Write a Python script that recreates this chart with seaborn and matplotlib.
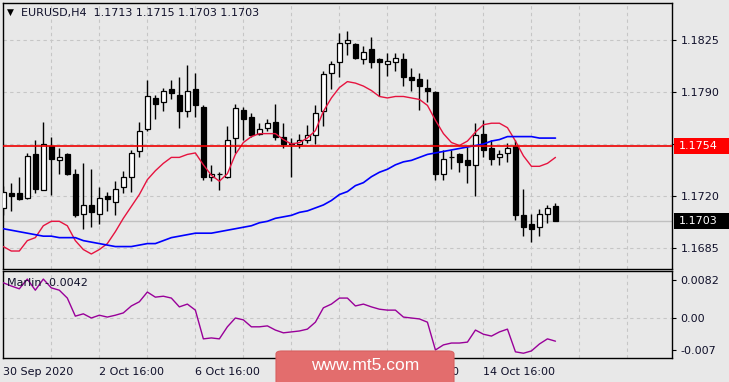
import numpy as np
import pandas as pd
import matplotlib
matplotlib.use('Agg')
import matplotlib.pyplot as plt
import seaborn as sns
from matplotlib.patches import Rectangle, FancyBboxPatch

# EURUSD H4 candles (bar 0 = 30 Sep 16:00)
opens = [1.1712, 1.1722, 1.1722, 1.1719, 1.1748, 1.1724, 1.1754, 1.1744, 1.1748, 1.1735,
         1.1708, 1.1714, 1.1708, 1.1720, 1.1716, 1.1726, 1.1733, 1.1750, 1.1765, 1.1786,
         1.1783, 1.1792, 1.1788, 1.1777, 1.1792, 1.1780, 1.1733, 1.1735, 1.1733, 1.1759,
         1.1778, 1.1773, 1.1762, 1.1766, 1.1770, 1.1760, 1.1756, 1.1755, 1.1758, 1.1761,
         1.1777, 1.1803, 1.1810, 1.1823, 1.1822, 1.1812, 1.1819, 1.1812, 1.1809, 1.1810,
         1.1812, 1.1800, 1.1799, 1.1793, 1.1790, 1.1735, 1.1746, 1.1748, 1.1744, 1.1741,
         1.1762, 1.1752, 1.1746, 1.1749, 1.1754, 1.1707, 1.1701, 1.1699, 1.1708, 1.1713]
highs = [1.1727, 1.1729, 1.1733, 1.1749, 1.1758, 1.1770, 1.1760, 1.1752, 1.1749, 1.1738,
         1.1742, 1.1738, 1.1726, 1.1723, 1.1730, 1.1737, 1.1751, 1.1770, 1.1798, 1.1788,
         1.1793, 1.1798, 1.1800, 1.1808, 1.1803, 1.1781, 1.1741, 1.1736, 1.1767, 1.1782,
         1.1780, 1.1776, 1.1769, 1.1772, 1.1782, 1.1769, 1.1759, 1.1762, 1.1768, 1.1781,
         1.1804, 1.1811, 1.1830, 1.1831, 1.1823, 1.1821, 1.1827, 1.1813, 1.1816, 1.1816,
         1.1816, 1.1806, 1.1803, 1.1799, 1.1791, 1.1751, 1.1751, 1.1749, 1.1753, 1.1769,
         1.1771, 1.1758, 1.1751, 1.1756, 1.1758, 1.1725, 1.1708, 1.1711, 1.1714, 1.1715]
lows = [1.1707, 1.1710, 1.1717, 1.1718, 1.1722, 1.1724, 1.1721, 1.1735, 1.1734, 1.1706,
        1.1698, 1.1699, 1.1701, 1.1710, 1.1707, 1.1722, 1.1723, 1.1746, 1.1764, 1.1772,
        1.1777, 1.1785, 1.1766, 1.1773, 1.1773, 1.1731, 1.1730, 1.1724, 1.1732, 1.1749,
        1.1758, 1.1760, 1.1761, 1.1764, 1.1758, 1.1752, 1.1733, 1.1752, 1.1756, 1.1755,
        1.1767, 1.1792, 1.1800, 1.1815, 1.1812, 1.1809, 1.1806, 1.1787, 1.1801, 1.1804,
        1.1794, 1.1791, 1.1778, 1.1783, 1.1731, 1.1731, 1.1738, 1.1736, 1.1729, 1.1720,
        1.1746, 1.1741, 1.1741, 1.1743, 1.1704, 1.1693, 1.1689, 1.1693, 1.1702, 1.1703]
closes = [1.1723, 1.1720, 1.1718, 1.1747, 1.1725, 1.1755, 1.1745, 1.1746, 1.1735, 1.1707,
          1.1714, 1.1709, 1.1719, 1.1718, 1.1725, 1.1733, 1.1749, 1.1764, 1.1787, 1.1782,
          1.1791, 1.1789, 1.1777, 1.1791, 1.1781, 1.1733, 1.1735, 1.1735, 1.1758, 1.1779,
          1.1772, 1.1761, 1.1765, 1.1769, 1.1760, 1.1755, 1.1755, 1.1758, 1.1761, 1.1776,
          1.1802, 1.1809, 1.1823, 1.1825, 1.1813, 1.1817, 1.1810, 1.1810, 1.1811, 1.1813,
          1.1800, 1.1798, 1.1794, 1.1791, 1.1735, 1.1745, 1.1746, 1.1743, 1.1741, 1.1761,
          1.1751, 1.1745, 1.1748, 1.1752, 1.1707, 1.1699, 1.1698, 1.1708, 1.1712, 1.1703]

# moving averages (red = fast, blue = slow)
ma_fast = [1.1686, 1.1683, 1.1683, 1.1690, 1.1692, 1.1700, 1.1703, 1.1703, 1.1700, 1.1690,
           1.1684, 1.1681, 1.1684, 1.1688, 1.1696, 1.1705, 1.1713, 1.1721, 1.1731, 1.1737,
           1.1742, 1.1746, 1.1746, 1.1748, 1.1749, 1.1741, 1.1734, 1.1730, 1.1735, 1.1748,
           1.1756, 1.1760, 1.1762, 1.1762, 1.1762, 1.1758, 1.1755, 1.1756, 1.1759, 1.1764,
           1.1777, 1.1786, 1.1793, 1.1797, 1.1796, 1.1794, 1.1791, 1.1787, 1.1786, 1.1787,
           1.1787, 1.1786, 1.1785, 1.1781, 1.1771, 1.1762, 1.1756, 1.1754, 1.1757, 1.1763,
           1.1768, 1.1769, 1.1769, 1.1766, 1.1757, 1.1747, 1.1740, 1.1740, 1.1742, 1.1746]
ma_slow = [1.1698, 1.1697, 1.1696, 1.1695, 1.1694, 1.1693, 1.1693, 1.1692, 1.1692, 1.1692,
           1.1690, 1.1689, 1.1688, 1.1687, 1.1686, 1.1686, 1.1686, 1.1687, 1.1688, 1.1688,
           1.1690, 1.1692, 1.1693, 1.1694, 1.1695, 1.1695, 1.1695, 1.1696, 1.1697, 1.1698,
           1.1699, 1.1700, 1.1702, 1.1703, 1.1705, 1.1706, 1.1707, 1.1709, 1.1710, 1.1712,
           1.1714, 1.1717, 1.1721, 1.1723, 1.1727, 1.1729, 1.1733, 1.1736, 1.1738, 1.1741,
           1.1743, 1.1744, 1.1746, 1.1748, 1.1749, 1.1750, 1.1751, 1.1752, 1.1753, 1.1754,
           1.1755, 1.1757, 1.1758, 1.1760, 1.1760, 1.1760, 1.1760, 1.1759, 1.1759, 1.1759]

# Marlin oscillator (lower panel)
marlin = [0.0076, 0.0069, 0.0063, 0.0084, 0.0060, 0.0084, 0.0065, 0.0060, 0.0043, 0.0004,
          0.0009, 0.0000, 0.0006, 0.0002, 0.0006, 0.0011, 0.0026, 0.0035, 0.0056, 0.0045,
          0.0047, 0.0043, 0.0024, 0.0030, 0.0017, -0.0045, -0.0043, -0.0045, -0.0019, 0.0000,
          -0.0004, -0.0019, -0.0019, -0.0017, -0.0026, -0.0032, -0.0030, -0.0028, -0.0024, -0.0009,
          0.0022, 0.0030, 0.0043, 0.0043, 0.0026, 0.0030, 0.0024, 0.0019, 0.0017, 0.0017,
          0.0002, 0.0000, -0.0002, -0.0009, -0.0069, -0.0058, -0.0054, -0.0054, -0.0052, -0.0026,
          -0.0035, -0.0039, -0.0030, -0.0024, -0.0073, -0.0076, -0.0071, -0.0056, -0.0045, -0.0050]

date_ticks = [0, 12, 24, 36, 48, 60]
date_labels = ['30 Sep 2020', '2 Oct 16:00', '6 Oct 16:00', '8 Oct 16:00', '12 Oct 16:00', '14 Oct 16:00']
price_ticks = [1.1825, 1.1790, 1.1755, 1.1720, 1.1685]
price_labels = ['1.1825', '1.1790', '', '1.1720', '1.1685']
marlin_ticks = [0.0082, 0.0, -0.007]
marlin_labels = ['0.0082', '0.00', '-0.007']
level_price = 1.1754
bid_price = 1.1703
title_text = 'EURUSD,H4  1.1713 1.1715 1.1703 1.1703'
marlin_text = 'Marlin -0.0042'

df = pd.DataFrame({'bar': np.arange(len(opens)), 'open': opens, 'high': highs,
                   'low': lows, 'close': closes, 'ma_fast': ma_fast,
                   'ma_slow': ma_slow, 'marlin': marlin})

bg = '#e8e8e8'
ink = '#10102a'
sns.set_style('white', {'axes.facecolor': bg, 'figure.facecolor': bg})
plt.rcParams['font.family'] = ['DejaVu Sans']
plt.rcParams['font.size'] = 8

W, H = 729, 382
fig = plt.figure(figsize=(W / 100, H / 100), dpi=100)
fig.patch.set_facecolor(bg)
ax = fig.add_axes([2.7 / W, (H - 269) / H, 669.6 / W, 266.3 / H])
ax2 = fig.add_axes([2.7 / W, (H - 357.5) / H, 669.6 / W, 86.5 / H])

xlim = (-0.075, 83.6)
grid_kw = dict(color='#c6c6c6', lw=0.8, ls=(0, (3, 3)))

# ---- main panel ----
ax.set_facecolor(bg)
ax.set_xlim(*xlim)
ax.set_ylim(1.16709, 1.18501)
for x in range(6, 84, 6):
    ax.axvline(x, zorder=0, **grid_kw)
for y in price_ticks:
    ax.axhline(y, zorder=0, **grid_kw)
ax.axhline(bid_price, color='#c0c0c0', lw=1, zorder=1)

up = df[df.close >= df.open]
dn = df[df.close < df.open]
ax.vlines(df.bar, df.low, df.high, color='black', lw=1, zorder=2)
ax.bar(up.bar, up.close - up.open, bottom=up.open, width=0.58,
       facecolor='white', edgecolor='black', lw=0.9, zorder=3)
ax.bar(dn.bar, dn.close - dn.open, bottom=dn.open, width=0.58,
       facecolor='black', edgecolor='black', lw=0.9, zorder=3)

sns.lineplot(data=df, x='bar', y='ma_fast', color='#e6133f', lw=1, ax=ax, zorder=4)
sns.lineplot(data=df, x='bar', y='ma_slow', color='#0000ff', lw=1.2, ax=ax, zorder=4)
ax.axhline(level_price, color='#ee0000', lw=1.2, zorder=5)

ax.set_xlabel('')
ax.set_ylabel('')
ax.set_xticks([])
ax.yaxis.tick_right()
ax.set_yticks(price_ticks)
ax.set_yticklabels(price_labels)
ax.tick_params(axis='y', direction='out', length=3, width=0.8, pad=3,
               colors='black', labelcolor=ink, labelsize=8)
for s in ax.spines.values():
    s.set_color('black')
    s.set_linewidth(1)

# price boxes on the right
ytr = ax.get_yaxis_transform()
box_h = 16 / 14857
for price, fc in [(level_price, '#ff0000'), (bid_price, '#000000')]:
    ax.add_patch(Rectangle((1.0025, price - box_h / 2), 0.085, box_h, transform=ytr,
                           facecolor=fc, edgecolor='none', clip_on=False, zorder=6))
    ax.text(1.0095, price, f'{price:.4f}', transform=ytr, color='white',
            fontsize=8, va='center', ha='left', clip_on=False, zorder=7)

ax.text(0.0065, 0.962, '\u25bc', transform=ax.transAxes, fontsize=6.5,
        va='center', ha='left', color='black')
ax.text(0.027, 0.962, title_text, transform=ax.transAxes, fontsize=8,
        va='center', ha='left', color=ink)

# ---- Marlin panel ----
ax2.set_facecolor(bg)
ax2.set_xlim(*xlim)
ax2.set_ylim(-0.00852, 0.01014)
for x in range(6, 84, 6):
    ax2.axvline(x, zorder=0, **grid_kw)
ax2.axhline(0, zorder=0, **grid_kw)
sns.lineplot(data=df, x='bar', y='marlin', color='#990099', lw=1, ax=ax2, zorder=3)
ax2.set_xlabel('')
ax2.set_ylabel('')
ax2.yaxis.tick_right()
ax2.set_yticks(marlin_ticks)
ax2.set_yticklabels(marlin_labels)
ax2.tick_params(axis='y', direction='out', length=3, width=0.8, pad=3,
                colors='black', labelcolor=ink, labelsize=8)
ax2.set_xticks(date_ticks)
ax2.set_xticklabels(date_labels, ha='left')
ax2.tick_params(axis='x', direction='out', length=4, width=0.8, pad=3,
                colors='black', labelcolor=ink, labelsize=8)
for s in ax2.spines.values():
    s.set_color('black')
    s.set_linewidth(1)
ax2.text(0.0065, 0.86, marlin_text, transform=ax2.transAxes, fontsize=8,
         va='center', ha='left', color=ink)

# watermark
fig.patches.append(FancyBboxPatch((276 / W, -0.02), 178 / W, 31 / H + 0.02,
                                  boxstyle='round,pad=0,rounding_size=0.008',
                                  transform=fig.transFigure, facecolor='#e36d6d',
                                  edgecolor='#d86060', lw=0.8, zorder=10))
fig.text(365 / W, (H - 366) / H, 'www.mt5.com', color='white', fontsize=12.5,
         family='Liberation Sans', ha='center', va='center', zorder=11)

fig.savefig('out.png', dpi=100, facecolor=bg)
